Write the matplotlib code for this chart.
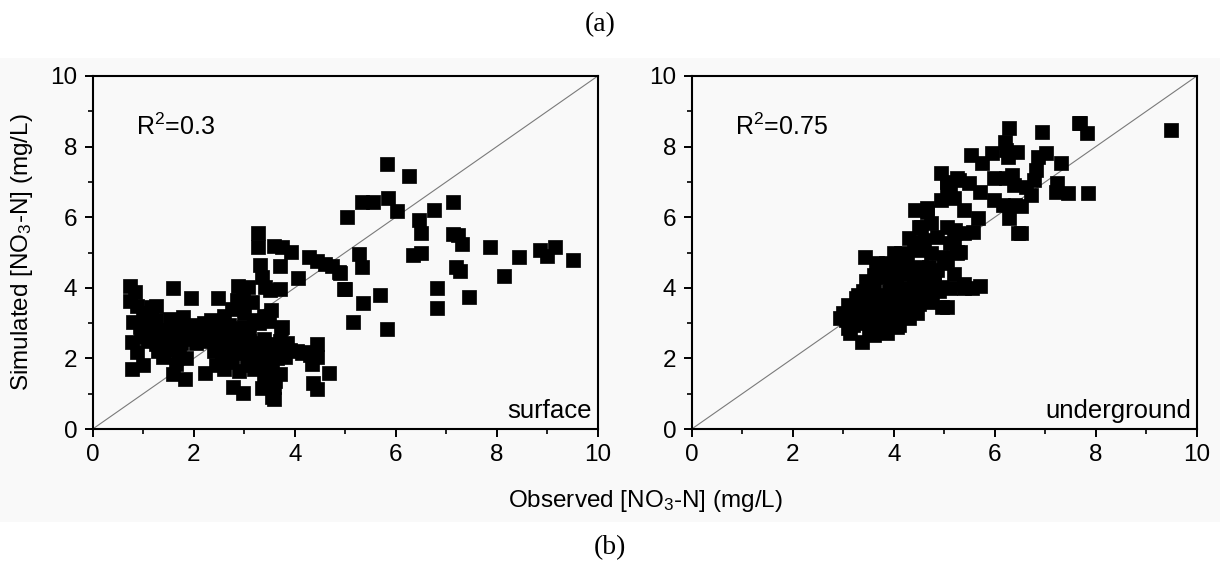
import matplotlib
matplotlib.use("Agg")
import matplotlib.pyplot as plt
from matplotlib.patches import Rectangle
from matplotlib.ticker import MultipleLocator

plt.rcParams['font.family'] = ['Liberation Sans', 'DejaVu Sans']
plt.rcParams['mathtext.fontset'] = 'custom'
plt.rcParams['mathtext.rm'] = 'Liberation Sans'
plt.rcParams['mathtext.it'] = 'Liberation Sans'
plt.rcParams['mathtext.default'] = 'regular'

# surface water: observed vs simulated NO3-N (mg/L)
surface_obs = [
    5.83, 6.26, 5.33, 5.54, 5.84, 6.02, 5.04, 6.46, 6.76, 7.13, 6.49, 7.14, 7.24, 7.32,
    7.87, 5.27, 6.35, 6.49, 5.33, 8.43, 8.86, 9.00, 9.15, 9.50, 4.90, 7.19, 7.27, 8.15,
    4.99, 5.68, 5.36, 6.82, 7.45, 6.82, 5.15, 5.82,
    3.28, 3.28, 3.58, 3.74, 3.92, 4.29, 4.44, 4.60, 4.74, 4.88, 3.31, 3.71, 4.07, 4.98,
    3.35, 3.41, 3.51, 3.70, 3.52, 3.73, 0.74, 0.84, 0.74, 0.87, 1.58, 1.94, 2.49, 1.25,
    2.88, 3.08, 2.85, 2.98, 1.56, 1.79, 0.80, 0.94, 1.07, 0.77, 0.87, 0.77, 1.00, 1.58,
    1.83, 2.22, 2.77, 2.98, 3.35, 3.58, 3.59, 4.44, 4.30, 4.37, 4.45, 4.67, 3.74, 1.53,
    3.54,
    1.00, 1.10, 1.20, 1.30, 1.40, 1.50, 1.60, 1.70, 1.80, 1.90, 2.00, 2.10, 2.20, 2.30,
    2.40, 2.50, 2.60, 2.70, 2.80, 2.90, 3.00, 3.10, 3.20, 3.30,
    1.00, 1.05, 2.60, 2.75, 2.90, 3.00, 3.15, 2.35, 2.50, 3.40, 3.50,
    0.95, 1.10, 1.25, 1.45, 1.60, 1.75, 1.90, 2.05, 2.20, 2.35, 2.50, 2.65, 2.80, 2.95,
    3.10, 3.25, 3.40, 3.55, 3.70, 3.85,
    1.30, 1.40, 1.55, 1.70, 1.85, 2.40, 2.55, 2.70, 2.85, 3.00, 3.10, 3.20, 3.35, 3.45,
    3.60, 3.75, 3.90, 4.05, 4.15, 4.30, 4.45, 3.65, 3.80,
    1.65, 2.45, 2.60, 2.75, 2.90, 3.05, 3.20, 3.30, 3.45, 3.55, 3.70, 2.65, 3.15, 3.40,
    3.60, 4.35, 2.05, 2.20, 1.25, 1.15,
]
surface_sim = [
    7.51, 7.17, 6.43, 6.43, 6.53, 6.18, 6.00, 5.92, 6.20, 6.43, 5.56, 5.52, 5.50, 5.23,
    5.17, 4.95, 4.92, 4.99, 4.60, 4.86, 5.07, 4.90, 5.15, 4.79, 4.43, 4.60, 4.48, 4.33,
    3.97, 3.79, 3.58, 3.99, 3.75, 3.42, 3.04, 2.82,
    5.54, 5.17, 5.18, 5.15, 5.02, 4.86, 4.77, 4.67, 4.62, 4.46, 4.65, 4.62, 4.27, 3.96,
    4.31, 4.03, 3.94, 3.96, 3.37, 2.85, 4.06, 3.89, 3.63, 3.49, 4.00, 3.70, 3.72, 3.49,
    4.06, 4.01, 3.65, 3.75, 3.09, 3.16, 3.04, 2.90, 3.04, 2.47, 2.19, 1.69, 1.81, 1.55,
    1.41, 1.60, 1.18, 1.01, 1.15, 0.84, 1.20, 2.41, 2.17, 1.29, 1.12, 1.60, 2.88, 3.11,
    0.92,
    2.90, 2.75, 2.80, 2.70, 2.75, 2.80, 2.70, 2.80, 2.75, 2.85, 2.80, 2.70, 2.85, 2.75,
    2.90, 2.80, 2.70, 2.95, 2.85, 2.75, 2.90, 2.80, 3.10, 3.00,
    3.30, 3.10, 3.20, 3.40, 3.50, 3.30, 3.60, 3.10, 3.05, 3.20, 3.05,
    2.60, 2.50, 2.40, 2.50, 2.40, 2.45, 2.55, 2.45, 2.50, 2.60, 2.45, 2.55, 2.40, 2.60,
    2.50, 2.45, 2.55, 2.40, 2.50, 2.45,
    2.20, 2.05, 2.25, 2.10, 2.00, 2.20, 2.10, 2.25, 2.15, 2.30, 2.05, 2.20, 2.30, 2.10,
    2.25, 2.20, 2.25, 2.20, 2.15, 2.10, 2.05, 2.00, 2.05,
    1.85, 1.80, 1.70, 1.90, 1.65, 1.80, 1.70, 1.90, 1.60, 1.80, 1.55, 1.95, 1.95, 1.45,
    1.35, 1.85, 2.95, 3.00, 3.10, 3.45,
]

# groundwater: observed vs simulated NO3-N (mg/L)
under_obs = [
    3.44, 2.94, 3.14, 3.37, 4.93, 5.06, 5.26, 4.43, 4.66, 4.53, 5.19, 3.87, 5.06,
    6.28, 6.94, 7.67, 5.52, 5.75, 5.95, 6.20, 6.23, 6.43, 6.26, 6.85, 7.01, 7.31,
    6.81, 6.78, 5.98, 6.22, 6.35, 6.38, 6.61, 6.71, 7.24, 7.44, 5.06, 5.29, 5.49,
    5.12, 5.70, 5.98, 6.17, 6.40, 6.28, 6.45, 4.66, 4.93, 5.19, 5.40, 5.67, 5.56,
    5.39, 4.50, 4.73, 5.06, 5.22, 4.60, 4.86, 5.12, 4.50, 4.73, 4.99, 5.26, 3.67,
    4.00, 4.26, 4.53, 5.06, 5.26, 5.39, 5.70, 4.93, 5.12, 9.49, 7.69, 7.82, 7.21,
    7.84, 6.51, 6.51, 4.96, 4.07, 3.87, 3.61, 5.32,
    3.00, 3.10, 3.20, 3.25, 3.30, 3.35, 3.40, 3.45, 3.50, 3.55, 3.60, 3.60, 3.65,
    3.70, 3.75, 3.80, 3.80, 3.85, 3.90, 3.90, 3.95, 4.00, 4.00, 4.05, 4.10, 4.15,
    4.20, 4.20, 4.25, 4.30, 4.35, 4.40, 4.45, 4.50, 4.55, 4.60, 4.70, 4.75, 4.80,
    4.90, 3.30, 3.45, 3.55, 3.70, 3.75, 3.95, 4.10, 4.30, 4.45, 3.20, 3.10, 3.05,
    3.50, 3.65, 3.85, 4.05, 4.25, 4.35, 4.60, 4.70, 4.85, 5.00, 4.15, 4.40, 4.55,
    4.30, 4.00, 3.90, 3.35, 3.60, 3.80, 4.00, 4.20, 4.40, 4.65, 5.20, 5.40, 5.55,
    3.15, 3.40, 3.50, 3.70, 3.90, 4.10, 4.30, 4.55, 4.80, 3.60, 3.95, 4.25,
]
under_sim = [
    4.88, 3.14, 2.71, 2.47, 7.24, 6.86, 7.10, 6.20, 6.25, 5.73, 5.35, 4.60, 3.46,
    8.52, 8.40, 8.66, 7.76, 7.53, 7.81, 8.14, 7.90, 7.86, 7.71, 7.71, 7.81, 7.53,
    7.34, 7.05, 7.10, 7.10, 7.20, 6.91, 6.86, 6.63, 6.96, 6.68, 7.00, 7.05, 6.96,
    6.82, 6.72, 6.49, 6.35, 6.35, 5.97, 5.54, 6.16, 6.49, 6.54, 6.20, 5.97, 5.59,
    5.54, 5.73, 5.83, 5.73, 5.64, 5.35, 5.45, 5.26, 5.07, 4.98, 4.88, 5.02, 4.69,
    4.60, 4.69, 4.60, 4.79, 4.98, 3.99, 4.05, 4.03, 3.99, 8.47, 8.66, 8.38, 6.72,
    6.68, 6.32, 5.54, 3.45, 2.90, 2.71, 2.66, 5.02,
    3.30, 3.50, 3.20, 3.70, 3.00, 3.45, 3.90, 3.25, 3.60, 3.05, 4.10, 3.40, 2.90,
    3.75, 3.20, 4.30, 3.55, 3.00, 3.90, 3.35, 4.50, 3.70, 3.10, 4.10, 3.45, 3.85,
    4.40, 3.25, 3.65, 4.00, 3.40, 4.30, 3.80, 3.55, 4.15, 3.70, 4.00, 3.60, 4.30,
    3.90, 3.80, 4.20, 3.85, 4.45, 3.00, 2.95, 2.95, 3.15, 3.30, 2.95, 2.85, 3.10,
    2.80, 4.60, 4.70, 4.60, 4.75, 4.55, 4.50, 4.60, 4.50, 4.70, 5.00, 5.10, 5.30,
    5.40, 5.00, 4.35, 3.55, 3.15, 3.80, 4.25, 3.90, 3.60, 3.90, 4.40, 4.10, 4.00,
    3.40, 3.10, 3.75, 3.35, 3.65, 3.55, 3.70, 4.00, 4.10, 4.35, 4.20, 4.55,
]

panels = [
    (surface_obs, surface_sim, "R$^2$=0.3", "surface"),
    (under_obs, under_sim, "R$^2$=0.75", "underground"),
]
ticks = [0, 2, 4, 6, 8, 10]

fig = plt.figure(figsize=(12.2, 5.81), dpi=100)
fig.patches.append(Rectangle((0, 0.1015), 1, 0.7986, transform=fig.transFigure,
                             facecolor="#f9f9f9", edgecolor="none", zorder=-10))

axes_left = [0.076, 0.567]
for left, (obs, sim, r2, name) in zip(axes_left, panels):
    ax = fig.add_axes([left, 0.2616, 0.414, 0.6076])
    ax.set_facecolor("none")
    ax.plot([0, 10], [0, 10], color="#7a7a7a", lw=0.8, zorder=1)
    ax.scatter(obs, sim, marker="s", s=92, color="black", edgecolors="black",
               linewidths=0.5, zorder=2)
    ax.set_xlim(0, 10)
    ax.set_ylim(0, 10)
    ax.set_xticks(ticks)
    ax.set_yticks(ticks)
    ax.xaxis.set_minor_locator(MultipleLocator(1))
    ax.yaxis.set_minor_locator(MultipleLocator(1))
    ax.tick_params(which="major", direction="out", length=6, width=1.4,
                   labelsize=17.5, pad=5)
    ax.tick_params(which="minor", direction="out", length=3.5, width=1.2)
    for sp in ax.spines.values():
        sp.set_linewidth(1.5)
    ax.text(0.85, 8.55, r2, fontsize=18, va="center", ha="left")
    ax.text(9.88, 0.5, name, fontsize=18.5, va="center", ha="right")

fig.text(22 / 1220, 1 - 252 / 581, "Simulated [NO$_3$-N] (mg/L)", rotation=90,
         fontsize=17.5, ha="center", va="center")
fig.text(645 / 1220, 1 - 501 / 581, "Observed [NO$_3$-N] (mg/L)",
         fontsize=17.5, ha="center", va="center")
fig.text(600 / 1220, 1 - 25 / 581, "(a)", family="Liberation Serif",
         fontsize=20, ha="center", va="center")
fig.text(610 / 1220, 1 - 548 / 581, "(b)", family="Liberation Serif",
         fontsize=20, ha="center", va="center")

fig.savefig("out.png", dpi=100)
